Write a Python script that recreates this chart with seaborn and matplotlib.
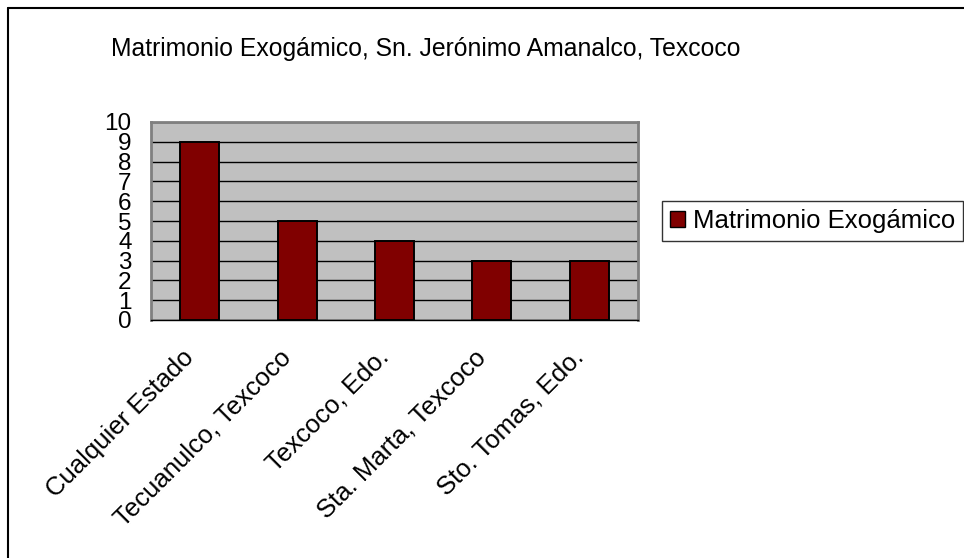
import pandas as pd
import seaborn as sns
import matplotlib.pyplot as plt
from matplotlib.patches import Patch
from matplotlib.transforms import ScaledTranslation

# Data
lugares = ['Cualquier Estado', 'Tecuanulco, Texcoco', 'Texcoco, Edo.',
           'Sta. Marta, Texcoco', 'Sto. Tomas, Edo.']
matrimonios = [9, 5, 4, 3, 3]
serie = 'Matrimonio Exogámico'
titulo = 'Matrimonio Exogámico, Sn. Jerónimo Amanalco, Texcoco'
y_ticks = list(range(0, 11))

df = pd.DataFrame({'lugar': lugares, 'valor': matrimonios})

sns.set_style('white')
plt.rcParams['font.family'] = ['Liberation Sans', 'DejaVu Sans']
plt.rcParams['text.color'] = 'black'
plt.rcParams['xtick.color'] = 'black'
plt.rcParams['ytick.color'] = 'black'

fig = plt.figure(figsize=(9.64, 5.58), dpi=100)

# outer chart border (left + top only visible in the reference)
fig.add_artist(plt.Line2D([7.5 / 964, 7.5 / 964], [0, 1 - 8 / 558],
                          color='black', lw=1.5, transform=fig.transFigure))
fig.add_artist(plt.Line2D([7.5 / 964, 1], [1 - 8 / 558, 1 - 8 / 558],
                          color='black', lw=1.5, transform=fig.transFigure))

ax = fig.add_axes([151 / 964, 1 - 320 / 558, 487 / 964, 198 / 558])
ax.set_facecolor('#C0C0C0')

sns.barplot(data=df, x='lugar', y='valor', color='#800000', width=0.4,
            edgecolor='black', linewidth=1.4, saturation=1, ax=ax, zorder=3)

ax.set_xlim(-0.5, len(lugares) - 0.5)
ax.set_ylim(0, 10)
ax.set_yticks(y_ticks)
ax.set_yticklabels([str(t) for t in y_ticks], fontsize=17.5)
ax.yaxis.grid(True, color='black', lw=1, zorder=1)
ax.set_axisbelow(True)

# category tick marks sit between the bars
ax.set_xticks([i - 0.5 for i in range(len(lugares) + 1)], minor=True)
ax.set_xticks(range(len(lugares)))
ax.set_xticklabels(lugares, rotation=45, ha='right', rotation_mode='anchor',
                   fontsize=18.5)
ax.tick_params(axis='x', which='major', length=0, pad=18)
ax.tick_params(axis='x', which='minor', length=5, color='black', direction='out')
ax.tick_params(axis='y', length=6, color='black', direction='out', pad=8)
ax.set_xlabel('')
ax.set_ylabel('')

shift = ScaledTranslation(-18 / 100, 0, fig.dpi_scale_trans)
for lbl in ax.get_xticklabels():
    lbl.set_transform(lbl.get_transform() + shift)

ax.spines['bottom'].set_color('black')
ax.spines['bottom'].set_linewidth(1)
for s in ['top', 'right', 'left']:
    ax.spines[s].set_color('#808080')
    ax.spines[s].set_linewidth(2)

fig.text(426 / 964, 1 - 56 / 558, titulo, ha='center', va='baseline', fontsize=17.8)

leg = fig.legend(handles=[Patch(facecolor='#800000', edgecolor='black', label=serie)],
                 loc='center left', bbox_to_anchor=(662 / 964, 1 - 221 / 558),
                 fontsize=18.5, frameon=True, fancybox=False, borderpad=0.3,
                 handlelength=0.6, handleheight=0.6, handletextpad=0.3,
                 borderaxespad=0)
leg.get_frame().set_edgecolor('black')
leg.get_frame().set_linewidth(1)

fig.savefig('out.png', dpi=100)
